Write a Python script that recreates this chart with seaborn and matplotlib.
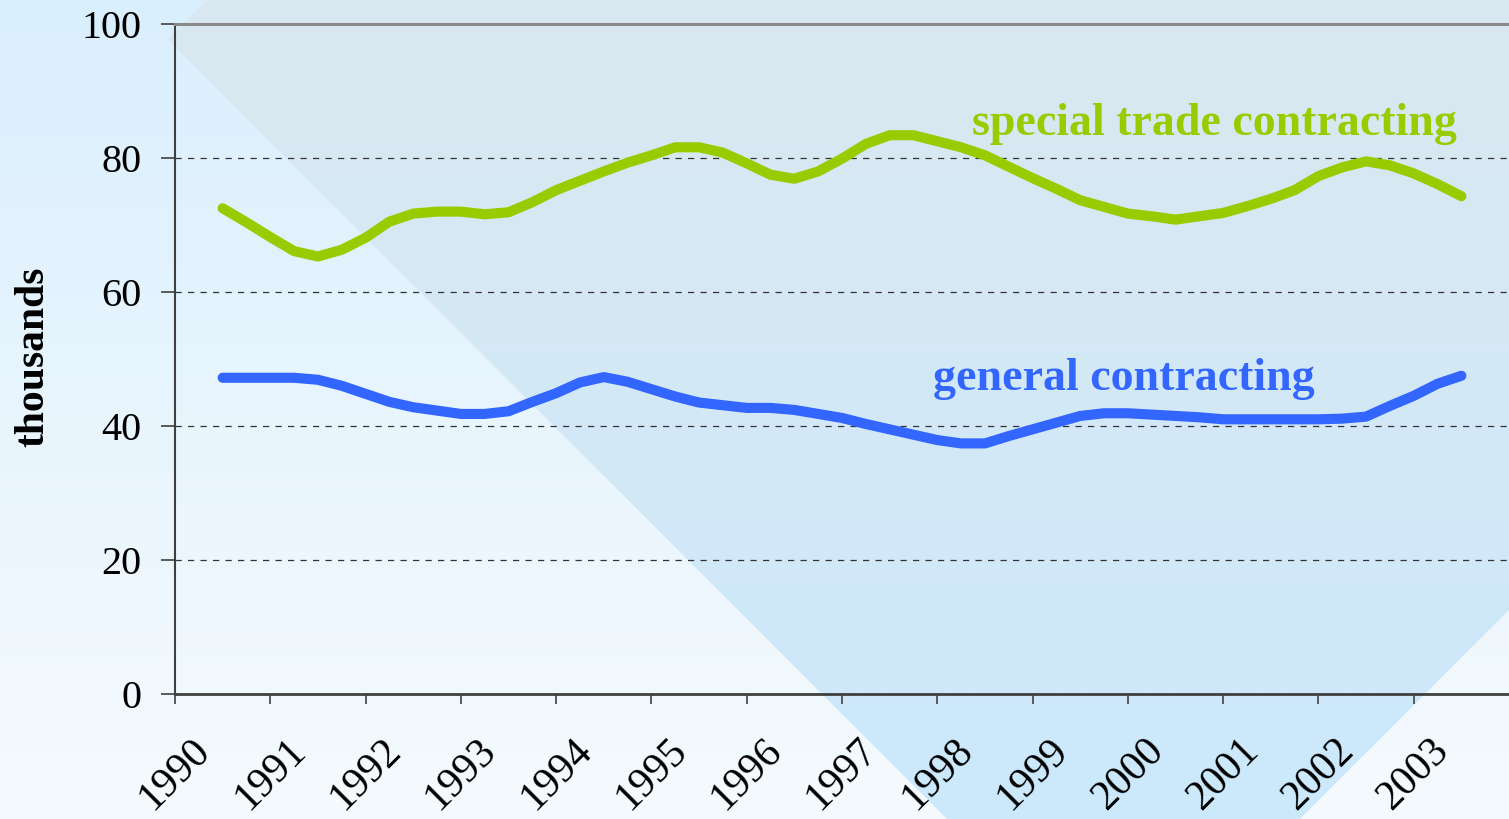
import numpy as np
import pandas as pd
import matplotlib.pyplot as plt
import seaborn as sns
from matplotlib.patches import Polygon
from matplotlib.colors import LinearSegmentedColormap

# quarterly employment, thousands (Q3 1990 .. Q3 2003)
special_trade = [72.5, 70.4, 68.2, 66.1, 65.3, 66.3, 68.1, 70.5, 71.7, 72.0,
                 72.0, 71.6, 71.9, 73.4, 75.2, 76.6, 78.0, 79.3, 80.4, 81.6,
                 81.6, 80.8, 79.2, 77.5, 76.9, 78.0, 79.9, 82.1, 83.4, 83.4,
                 82.5, 81.6, 80.4, 78.7, 77.0, 75.4, 73.7, 72.7, 71.7, 71.3,
                 70.8, 71.3, 71.8, 72.8, 73.9, 75.2, 77.3, 78.6, 79.5, 78.9,
                 77.7, 76.1, 74.3]
general = [47.2, 47.2, 47.2, 47.2, 46.9, 46.0, 44.8, 43.6, 42.8, 42.3,
           41.8, 41.8, 42.2, 43.6, 44.9, 46.5, 47.3, 46.6, 45.5, 44.4,
           43.5, 43.1, 42.7, 42.7, 42.4, 41.8, 41.2, 40.3, 39.5, 38.7,
           37.9, 37.4, 37.4, 38.5, 39.5, 40.5, 41.5, 41.9, 41.9, 41.7,
           41.5, 41.3, 41.0, 41.0, 41.0, 41.0, 41.0, 41.1, 41.4, 43.0,
           44.5, 46.3, 47.5]
years = list(range(1990, 2004))
y_ticks = [0, 20, 40, 60, 80, 100]
series_names = ['special trade contracting', 'general contracting']
colors = {'special trade contracting': '#99cc00', 'general contracting': '#3366ff'}

quarter_pos = 1990.5 + 0.25 * np.arange(len(special_trade))
df = pd.DataFrame({
    'period': np.concatenate([quarter_pos, quarter_pos]),
    'thousands': special_trade + general,
    'series': [series_names[0]] * len(special_trade) + [series_names[1]] * len(general),
})

plt.rcParams['font.family'] = ['Liberation Serif', 'DejaVu Serif']

W, H = 1509, 819
fig = plt.figure(figsize=(W / 100, H / 100), dpi=100)

# decorative background (pixel coordinates)
bg = fig.add_axes([0, 0, 1, 1], zorder=0)
grad = np.linspace(0, 1, 256).reshape(-1, 1)
outer = LinearSegmentedColormap.from_list('outer', ['#daeffd', '#e8f5fd', '#f5fafe'])
bg.imshow(grad, cmap=outer, extent=(0, W, H, 0), aspect='auto')
diamond = Polygon([(167.5, 39.5), (1103.5, -896.5), (2059.5, 59.5), (1123.5, 995.5)],
                  closed=True, facecolor='none', edgecolor='none')
bg.add_patch(diamond)
inner = LinearSegmentedColormap.from_list('inner', ['#dae8f0', '#d3e8f6', '#cce9fc'])
im = bg.imshow(grad, cmap=inner, extent=(0, W, H, 0), aspect='auto')
im.set_clip_path(diamond)
bg.set_xlim(0, W)
bg.set_ylim(H, 0)
bg.axis('off')

ax = fig.add_axes([175 / W, 1 - 694 / H, (W - 175) / W, (694 - 24) / H], zorder=1)
ax.set_facecolor('none')

sns.lineplot(data=df, x='period', y='thousands', hue='series', palette=colors,
             linewidth=7.3, solid_capstyle='round', solid_joinstyle='round',
             legend=False, ax=ax)

ax.set_xlim(1990, 2004)
ax.set_ylim(0, 100)
ax.set_xticks(years)
ax.set_xticklabels([str(y) for y in years], rotation=45, ha='center', fontsize=30)
ax.set_yticks(y_ticks)
ax.set_yticklabels([str(v) for v in y_ticks], fontsize=29)
ax.tick_params(axis='x', direction='out', length=7, width=1.2, color='#404040', pad=20)
ax.tick_params(axis='y', direction='out', length=10, width=1.2, color='#404040', pad=14)
ax.set_xlabel('')
ax.set_ylabel('')

ax.yaxis.grid(True, linestyle=(0, (5, 5)), color='#333333', linewidth=0.9)
ax.set_axisbelow(True)

ax.spines['top'].set_color('#8a8a8a')
ax.spines['top'].set_linewidth(2.2)
ax.spines['left'].set_color('#404040')
ax.spines['left'].set_linewidth(1.5)
ax.spines['bottom'].set_color('#404040')
ax.spines['bottom'].set_linewidth(2)
ax.spines['right'].set_visible(False)

ax.text(2000.91, 83.4, 'special trade contracting', color=colors[series_names[0]],
        fontsize=33, fontweight='bold', ha='center', va='baseline')
ax.text(1999.96, 45.3, 'general contracting', color=colors[series_names[1]],
        fontsize=33, fontweight='bold', ha='center', va='baseline')

fig.text(33 / W, 1 - 357 / H, 'thousands', rotation=90, fontsize=30,
         fontweight='bold', ha='center', va='center')

fig.savefig('out.png', dpi=100)
